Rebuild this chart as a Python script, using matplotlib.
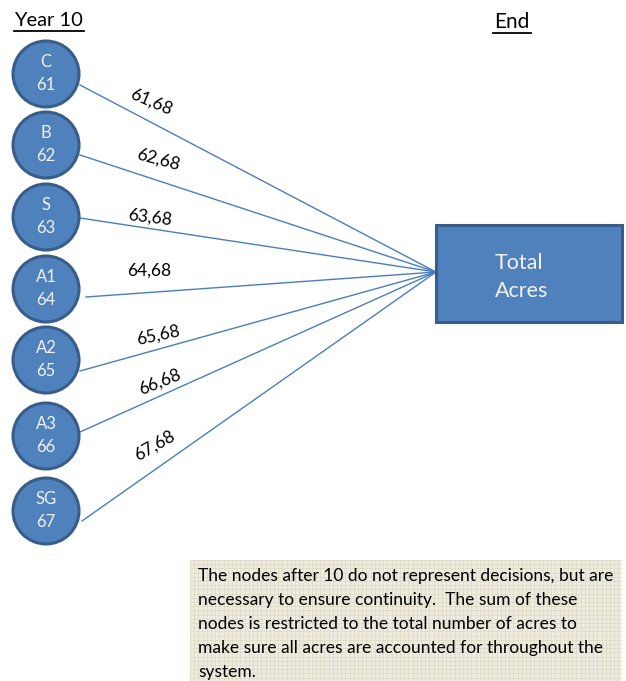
import matplotlib
matplotlib.use("Agg")
import matplotlib.pyplot as plt
from matplotlib.patches import Circle, Rectangle
import numpy as np

# ---- data ----
node_names = ["C", "B", "S", "A1", "A2", "A3", "SG"]
node_ids = ["61", "62", "63", "64", "65", "66", "67"]
edge_labels = ["61,68", "62,68", "63,68", "64,68", "65,68", "66,68", "67,68"]
left_title = "Year 10"
right_title = "End"
target_label = "Total\nAcres"
note_text = ("The nodes after 10 do not represent decisions, but are\n"
             "necessary to ensure continuity.  The sum of these\n"
             "nodes is restricted to the total number of acres to\n"
             "make sure all acres are accounted for throughout the\n"
             "system.")

# ---- layout (pixel coordinates) ----
W, H = 626, 681
node_x = 46
node_y = [74, 145, 217, 289, 360, 436, 511]
node_r = 33
edge_start = [(80, 85), (80, 155), (80, 218), (86, 297), (80, 371), (80, 432), (82, 521)]
rect = (436, 225, 186, 97)   # x, y, w, h
target = (436, 272)
label_pos = [(151, 102), (158, 160), (150, 217), (149, 271), (158, 335), (160, 382), (155, 446)]
label_rot = [-23, -15, -7, 0, 12, 22, 30]

FILL = "#4F81BD"
EDGE = "#385D8A"
FONT = ["Lato", "DejaVu Sans"]

fig = plt.figure(figsize=(W / 100, H / 100), dpi=100)
ax = fig.add_axes([0, 0, 1, 1])
ax.set_xlim(0, W)
ax.set_ylim(H, 0)
ax.axis("off")

# titles
ax.text(14, 20, left_title, fontsize=14.5, family=FONT, va="center", ha="left")
ax.plot([14, 84], [31, 31], color="black", lw=1.3)
ax.text(512, 22, right_title, fontsize=15, family=FONT, va="center", ha="center")
ax.plot([493, 531], [33, 33], color="black", lw=1.3)

# edges
for (sx, sy) in edge_start:
    ax.plot([sx, target[0]], [sy, target[1]], color="#4A7EBB", lw=1.0, zorder=1)

# nodes
for name, nid, y in zip(node_names, node_ids, node_y):
    ax.add_patch(Circle((node_x, y), node_r, facecolor=FILL, edgecolor=EDGE, lw=2.2, zorder=2))
    ax.text(node_x, y - 12, name, color="#F2F2F2", fontsize=12, family=FONT,
            ha="center", va="center", zorder=3)
    ax.text(node_x, y + 11, nid, color="#F2F2F2", fontsize=12, family=FONT,
            ha="center", va="center", zorder=3)

# edge labels
for lab, (lx, ly), rot in zip(edge_labels, label_pos, label_rot):
    ax.text(lx, ly, lab, fontsize=12.5, family=FONT, rotation=rot,
            ha="center", va="center", rotation_mode="anchor")

# target box
ax.add_patch(Rectangle((rect[0], rect[1]), rect[2], rect[3], facecolor=FILL,
                       edgecolor=EDGE, lw=2.2, zorder=2))
ax.text(495, 277, target_label, color="#F2F2F2", fontsize=15.5, family=FONT,
        ha="left", va="center", linespacing=1.55, zorder=3)

# note box
bx0, by0, bx1, by1 = 190, 560, 621, 681
ax.add_patch(Rectangle((bx0, by0), bx1 - bx0, by1 - by0, facecolor="#EEECE1",
                       edgecolor="none", zorder=1))
for gx in np.arange(bx0, bx1, 4.2):
    ax.plot([gx, gx], [by0, by1], color="#DDD9C3", lw=0.5, zorder=1)
for gy in np.arange(by0, by1, 4.2):
    ax.plot([bx0, bx1], [gy, gy], color="#DDD9C3", lw=0.5, zorder=1)
ax.text(198, 568, note_text, fontsize=12.5, family=FONT, ha="left", va="top",
        linespacing=1.62, zorder=3)

fig.savefig("out.png", dpi=100)
